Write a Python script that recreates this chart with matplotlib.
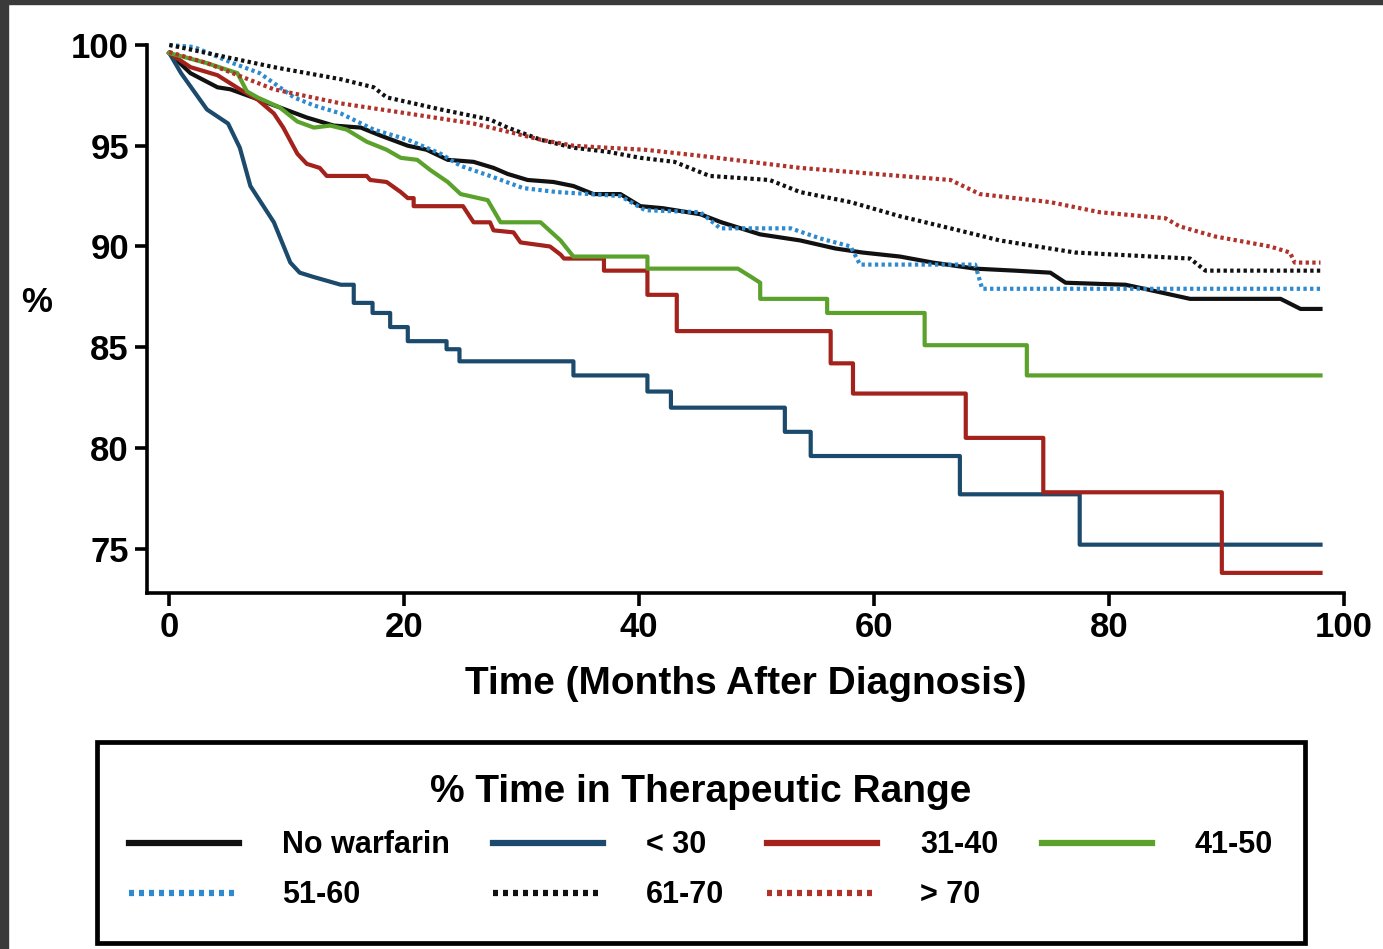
import numpy as np
import matplotlib.pyplot as plt
from matplotlib.patches import Rectangle

plt.rcParams['font.family'] = ['Liberation Sans', 'DejaVu Sans']
plt.rcParams['font.weight'] = 'bold'

# months after diagnosis / % event-free
t_none = [0, 1.8, 4.1, 5.2, 7.1, 9.4, 11.7, 14, 16.3, 18, 20.3, 21.9, 23.7, 25.9, 27.6, 28.8,
          30.5, 32.7, 34.4, 36.1, 38.4, 40.1, 42, 45.2, 47, 50.3, 53.7, 56.7, 59, 62.2, 65,
          68.6, 72, 75, 76.3, 81.4, 83, 86.9, 94.6, 96.3, 98]
v_none = [99.6, 98.6, 97.9, 97.8, 97.4, 96.9, 96.4, 96.0, 95.9, 95.5, 95.0, 94.8, 94.3, 94.2, 93.9, 93.6,
          93.3, 93.2, 93.0, 92.6, 92.6, 92.0, 91.9, 91.6, 91.2, 90.6, 90.3, 89.9, 89.7, 89.5, 89.2,
          88.9, 88.8, 88.7, 88.2, 88.1, 87.9, 87.4, 87.4, 86.9, 86.9]

t_lt30 = [0, 1, 3.2, 5.0, 6.0, 6.9, 8.9, 10.3, 11.1, 12.2, 14.6, 15.7, 15.7, 17.3, 17.3, 18.8, 18.8,
          20.3, 20.3, 23.6, 23.6, 24.7, 24.7, 34.4, 34.4, 40.7, 40.7, 42.7, 42.7, 52.4, 52.4,
          54.6, 54.6, 67.3, 67.3, 77.5, 77.5, 98]
v_lt30 = [99.6, 98.6, 96.8, 96.1, 94.9, 93.0, 91.2, 89.2, 88.7, 88.5, 88.1, 88.1, 87.2, 87.2, 86.7, 86.7, 86.0,
          86.0, 85.3, 85.3, 84.9, 84.9, 84.3, 84.3, 83.6, 83.6, 82.8, 82.8, 82.0, 82.0, 80.8,
          80.8, 79.6, 79.6, 77.7, 77.7, 75.2, 75.2]

t_31_40 = [0, 1.8, 4.1, 6.0, 7.5, 8.9, 9.7, 10.9, 11.7, 12.8, 13.4, 16.8, 17.1, 18.5, 19.7, 20.3,
           20.8, 20.8, 25.0, 25.9, 27.3, 27.6, 29.3, 29.9, 32.4, 33.3, 33.6, 37.0, 37.0, 40.7,
           40.7, 43.2, 43.2, 56.3, 56.3, 58.2, 58.2, 67.8, 67.8, 74.4, 74.4, 89.6, 89.6, 98]
v_31_40 = [99.6, 98.9, 98.5, 97.8, 97.3, 96.6, 95.9, 94.6, 94.1, 93.9, 93.5, 93.5, 93.3, 93.2, 92.7, 92.4,
           92.4, 92.0, 92.0, 91.2, 91.2, 90.8, 90.7, 90.2, 90.0, 89.6, 89.4, 89.4, 88.8, 88.8,
           87.6, 87.6, 85.8, 85.8, 84.2, 84.2, 82.7, 82.7, 80.5, 80.5, 77.8, 77.8, 73.8, 73.8]

t_41_50 = [0, 3.2, 5.8, 6.6, 7.5, 9.4, 10.9, 12.3, 13.7, 15.1, 16.8, 18.5, 19.7, 21.1, 22.2, 23.7,
           24.8, 27.1, 28.2, 31.6, 33.3, 34.4, 40.7, 40.7, 48.4, 49.5, 50.3, 50.3, 56.0, 56.0,
           64.3, 64.3, 73.0, 73.0, 98]
v_41_50 = [99.6, 99.1, 98.6, 97.7, 97.4, 96.9, 96.2, 95.9, 96.0, 95.8, 95.2, 94.8, 94.4, 94.3, 93.8, 93.2,
           92.6, 92.3, 91.2, 91.2, 90.3, 89.5, 89.5, 88.9, 88.9, 88.5, 88.2, 87.4, 87.4, 86.7,
           86.7, 85.1, 85.1, 83.6, 83.6]

t_51_60 = [0, 2.1, 5.4, 7.7, 9.4, 10.6, 12.3, 14.6, 17.4, 20.3, 23.1, 24.8, 27.3, 30.1, 33.0, 35.8,
           38.4, 40.5, 45.2, 46.9, 52.9, 55.4, 58.0, 58.8, 68.6, 69.2, 98]
v_51_60 = [100, 99.9, 99.1, 98.6, 97.9, 97.4, 97.0, 96.6, 95.8, 95.3, 94.6, 94.0, 93.5, 92.9, 92.7, 92.6,
           92.5, 91.8, 91.7, 90.9, 90.9, 90.4, 90.0, 89.1, 89.1, 87.9, 87.9]

t_61_70 = [0, 3.2, 8.9, 14.6, 17.4, 18.5, 23.1, 27.3, 28.8, 31.6, 34.4, 37.3, 40.1, 43.0, 46.0, 51.1,
           53.7, 58.0, 62.2, 66.5, 70.7, 77.1, 86.9, 88.2, 98]
v_61_70 = [100, 99.6, 98.9, 98.3, 97.9, 97.4, 96.8, 96.3, 95.9, 95.3, 94.9, 94.7, 94.4, 94.2, 93.5, 93.3,
           92.7, 92.2, 91.5, 90.9, 90.3, 89.7, 89.4, 88.8, 88.8]

t_gt70 = [0, 3.2, 8.9, 14.6, 20.3, 25.9, 28.8, 31.6, 34.4, 37.3, 40.5, 45.2, 53.7, 62.2, 66.5, 69.0,
          75.0, 79.2, 84.8, 86.0, 89.0, 93.7, 95.4, 95.8, 98]
v_gt70 = [99.65, 99.1, 97.8, 97.1, 96.6, 96.1, 95.7, 95.3, 95.0, 94.9, 94.8, 94.5, 93.9, 93.5, 93.3, 92.6,
          92.2, 91.7, 91.4, 91.0, 90.5, 90.0, 89.7, 89.2, 89.2]

labels = ['No warfarin', '< 30', '31-40', '41-50', '51-60', '61-70', '> 70']
x_ticks = [0, 20, 40, 60, 80, 100]
y_ticks = [75, 80, 85, 90, 95, 100]

series = [
    (t_none, v_none, '#111111', '-'),
    (t_lt30, v_lt30, '#1c4a6c', '-'),
    (t_31_40, v_31_40, '#a3221c', '-'),
    (t_41_50, v_41_50, '#5ba22c', '-'),
    (t_51_60, v_51_60, '#2b8ad0', (0, (0.8, 0.8))),
    (t_61_70, v_61_70, '#111111', (0, (0.8, 0.8))),
    (t_gt70, v_gt70, '#b0322a', (0, (0.8, 0.8))),
]

fig = plt.figure(figsize=(13.83, 9.49), dpi=100)
ax = fig.add_axes([0.1063, 0.3751, 0.8655, 0.5775])

handles = []
for (t, v, c, ls), lab in zip(series, labels):
    h, = ax.plot(t, v, color=c, linestyle=ls, linewidth=3.0, label=lab, clip_on=False)
    handles.append(h)

ax.set_xlim(-1.9, 100)
ax.set_ylim(72.8, 100)
ax.set_xticks(x_ticks)
ax.set_yticks(y_ticks)
for s in ['top', 'right']:
    ax.spines[s].set_visible(False)
for s in ['left', 'bottom']:
    ax.spines[s].set_linewidth(2.6)
ax.tick_params(width=2.6, length=9, labelsize=25, pad=4)
ax.set_xlabel('Time (Months After Diagnosis)', fontsize=28, fontweight='bold', labelpad=16)
ax.set_ylabel('%', fontsize=25, fontweight='bold', rotation=0, labelpad=0)
ax.yaxis.set_label_coords(-0.092, 0.5)

# legend order row-wise: matplotlib fills columns first
order = [0, 4, 1, 5, 2, 6, 3]
leg = fig.legend([handles[i] for i in order], [labels[i] for i in order],
                 ncol=4, loc='upper left', mode='expand',
                 bbox_to_anchor=(97 / 1383, 1 - 742 / 949, 1208 / 1383, 0.0),
                 title='% Time in Therapeutic Range', title_fontproperties={'size': 28, 'weight': 'bold'},
                 fontsize=22, fancybox=False, edgecolor='black', framealpha=1, handlelength=3.6,
                 handletextpad=1.4, columnspacing=2.0, borderpad=1.05, labelspacing=0.66,
                 borderaxespad=0)
leg.get_frame().set_linewidth(3.4)
for lh in leg.get_lines():
    lh.set_linewidth(4.5)

# dark frame at the top/left edge of the screenshot
fig.patches.append(Rectangle((0, 0), 8 / 1383, 1, transform=fig.transFigure, color='#3a3a3a', zorder=10))
fig.patches.append(Rectangle((0, 1 - 4 / 949), 1, 4 / 949, transform=fig.transFigure, color='#3a3a3a', zorder=10))

fig.savefig('out.png', dpi=100)
